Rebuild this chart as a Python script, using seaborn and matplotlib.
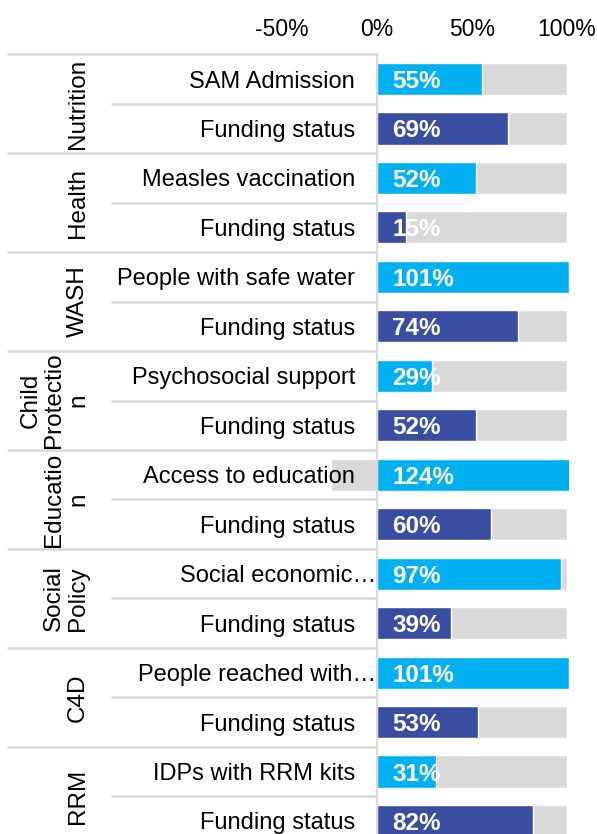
import numpy as np
import pandas as pd
import matplotlib
matplotlib.use("Agg")
import matplotlib.pyplot as plt
import seaborn as sns

# ---- data ----
groups = ["Nutrition", "Health", "WASH", "Child\nProtectio\nn", "Educatio\nn",
          "Social\nPolicy", "C4D", "RRM"]
indicators = ["SAM Admission", "Measles vaccination", "People with safe water",
              "Psychosocial support", "Access to education", "Social economic…",
              "People reached with…", "IDPs with RRM kits"]
indicator_pct = [55, 52, 101, 29, 124, 97, 101, 31]
funding_pct = [69, 15, 74, 52, 60, 39, 53, 82]
xticks = [-50, 0, 50, 100]

# ---- build long table ----
rows, labels, vals, kinds = [], [], [], []
for i in range(len(groups)):
    rows += [2 * i, 2 * i + 1]
    labels += [indicators[i], "Funding status"]
    vals += [indicator_pct[i], funding_pct[i]]
    kinds += ["indicator", "funding"]
df = pd.DataFrame({"row": rows, "label": labels, "value": vals, "kind": kinds})
df["rest"] = np.where(df["value"] <= 100, 100, 100 - df["value"])

sns.set_style("white")
plt.rcParams["font.family"] = ["Liberation Sans", "DejaVu Sans"]

W, H = 597, 834
fig = plt.figure(figsize=(W / 100, H / 100), dpi=100)
px0, px100 = 377.0, 567.0
scale = (px100 - px0) / 100.0
xl = -px0 / scale
xr = (569 - px0) / scale
top_px, bot_px = 54.3, 845.7
ax = fig.add_axes([0, 1 - bot_px / H, 569 / W, (bot_px - top_px) / H])

gray = "#D9D9D9"
light = "#00B0F0"
dark = "#3A4EA1"

sns.barplot(data=df, x="rest", y="row", orient="h", color=gray, width=0.65,
            errorbar=None, ax=ax, saturation=1, order=list(range(len(df))))
sns.barplot(data=df, x="value", y="row", hue="kind", orient="h", dodge=False,
            palette={"indicator": light, "funding": dark}, width=0.65,
            errorbar=None, ax=ax, saturation=1, legend=False,
            order=list(range(len(df))))

ax.set_xlim(xl, xr)
ax.set_ylim(len(df) - 0.5, -0.5)
for s in ax.spines.values():
    s.set_visible(False)
ax.set_yticks([])
ax.set_ylabel("")
ax.set_xlabel("")
ax.set_xticks(xticks)
ax.set_xticklabels([f"{t}%" for t in xticks])
ax.xaxis.tick_top()
ax.tick_params(axis="x", length=0, pad=9.7, labelsize=16.5, colors="black")

# axis line
ax.plot([0, 0], [-0.5, len(df) - 0.5], color=gray, lw=1.5, zorder=5, clip_on=False)

# table lines
x_group = (8 - px0) / scale
x_inner = (112 - px0) / scale
for i in range(len(groups) + 1):
    ax.plot([x_group, 0], [2 * i - 0.5] * 2, color=gray, lw=1.8, clip_on=False, zorder=1)
for i in range(len(groups)):
    ax.plot([x_inner, 0], [2 * i + 0.5] * 2, color=gray, lw=1.8, clip_on=False, zorder=1)

# row labels
for r, lab in zip(df["row"], df["label"]):
    xr_px = 376 if lab.endswith("…") else 355
    ax.text((xr_px - px0) / scale, r, lab, ha="right", va="center_baseline",
            fontsize=17, color="black", zorder=6)

# group labels
for i, g in enumerate(groups):
    ax.text((89 - px0) / scale, 2 * i + 0.5, g, rotation=90, ha="right", va="center",
            multialignment="center", linespacing=1.1, fontsize=17.5, color="black")

# data labels
for r, v in zip(df["row"], df["value"]):
    ax.text((392 - px0) / scale, r, f"{v}%", ha="left", va="center_baseline",
            fontsize=17.5, fontweight="bold", color="white", zorder=7)

fig.savefig("out.png", dpi=100)
